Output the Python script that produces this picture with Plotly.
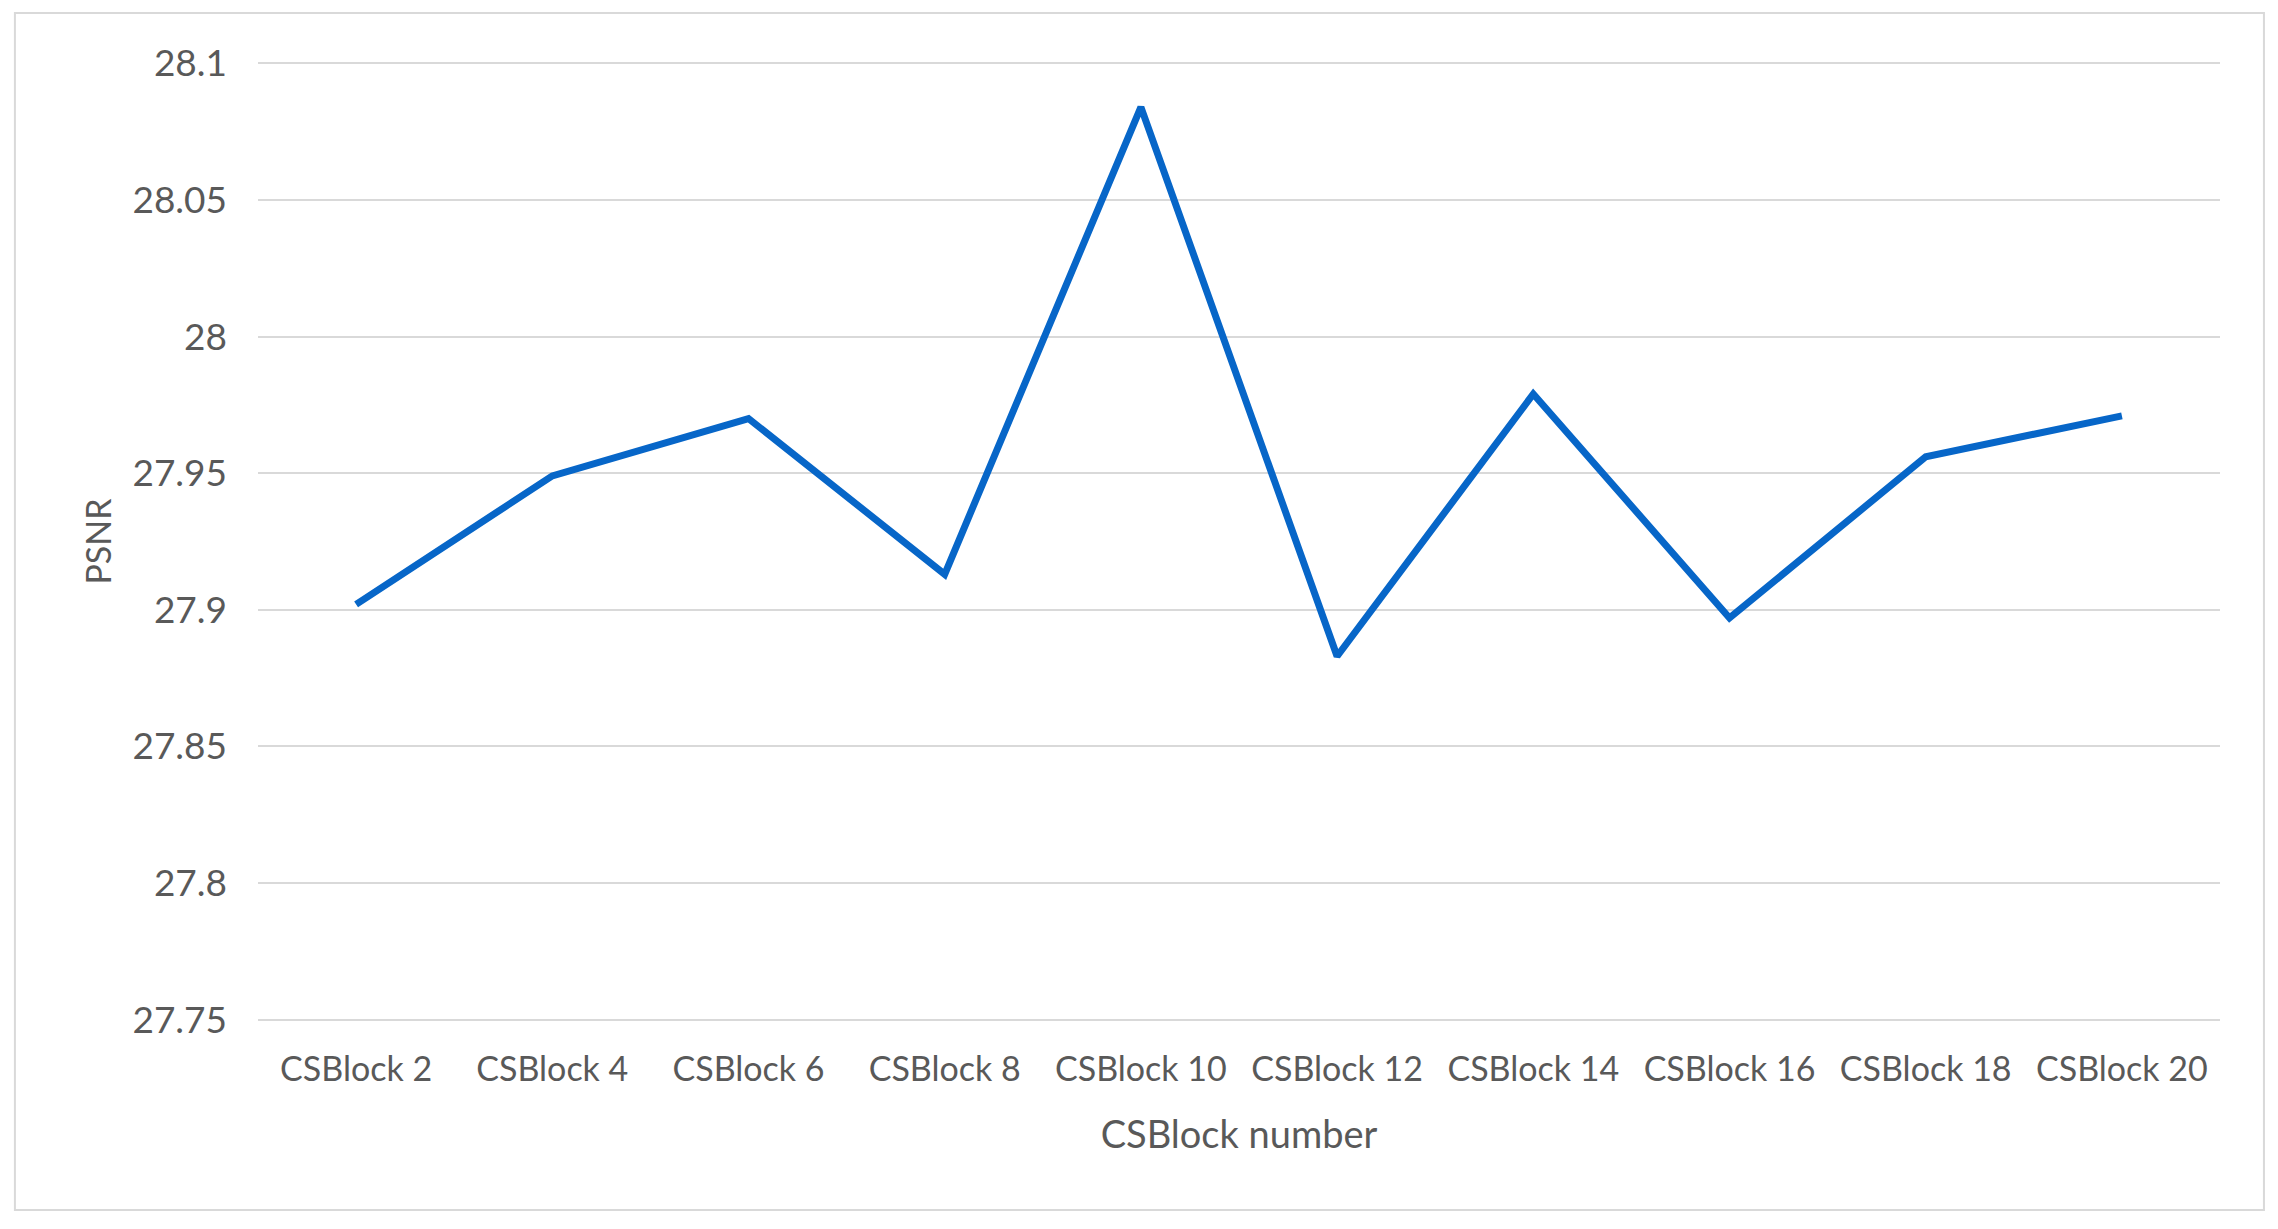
import plotly.graph_objects as go

# CSBlock number vs PSNR
blocks = ['CSBlock 2', 'CSBlock 4', 'CSBlock 6', 'CSBlock 8', 'CSBlock 10',
          'CSBlock 12', 'CSBlock 14', 'CSBlock 16', 'CSBlock 18', 'CSBlock 20']
psnr = [27.902, 27.949, 27.970, 27.913, 28.084, 27.883, 27.979, 27.897, 27.956, 27.971]

y_ticks = [27.75, 27.8, 27.85, 27.9, 27.95, 28, 28.05, 28.1]
y_labels = ['27.75', '27.8', '27.85', '27.9', '27.95', '28', '28.05', '28.1']

font_family = 'Lato, Carlito, Calibri, sans-serif'
grey = '#595959'

fig = go.Figure()

fig.add_trace(
    go.Scatter(
        x=blocks,
        y=psnr,
        mode='lines',
        line=dict(color='#0766c8', width=7),
        showlegend=False)
)

fig.update_layout(
    width=2278,
    height=1229,
    margin=dict(l=250, r=66, t=54, b=216),
    paper_bgcolor='white',
    plot_bgcolor='white',
    font=dict(family=font_family, color=grey, size=34),

    xaxis=dict(
        type='category',
        range=[-0.5, 9.5],
        showgrid=False,
        showline=False,
        ticks='',
        ticklabelstandoff=25,
        tickfont=dict(size=34, color=grey),
        title=dict(text='CSBlock number', font=dict(size=38, color=grey), standoff=34),
    ),
    yaxis=dict(
        range=[27.7495, 28.1005],
        tickvals=y_ticks,
        ticktext=y_labels,
        showgrid=True,
        gridcolor='#d9d9d9',
        gridwidth=2,
        zeroline=False,
        showline=False,
        ticks='',
        ticklabelstandoff=30,
        tickfont=dict(size=37, color=grey),
        title=dict(text='PSNR', font=dict(size=34, color=grey), standoff=10),
    ),
)

# outer chart border like the spreadsheet chart area
fig.add_shape(
    type='rect', xref='paper', yref='paper',
    x0=-0.1239, x1=1.0224, y0=-0.197, y1=1.051,
    line=dict(color='#d9d9d9', width=2),
    layer='below'
)

fig.write_html("out.html")
